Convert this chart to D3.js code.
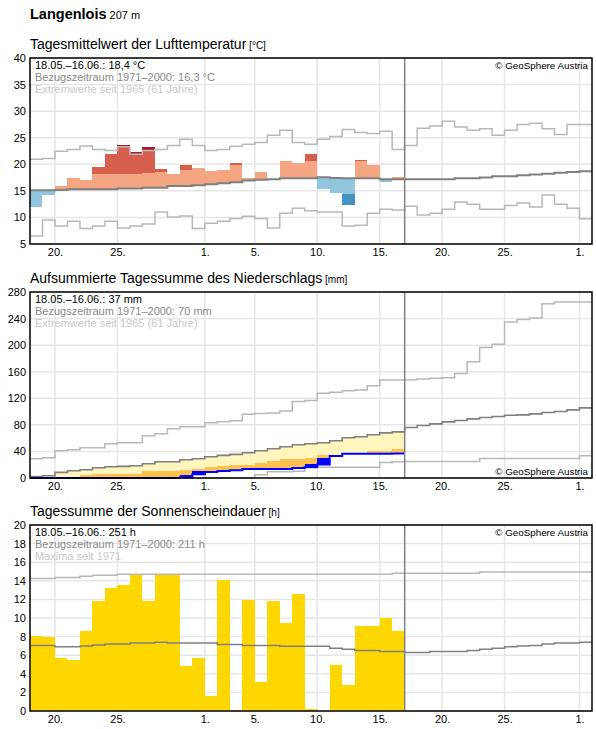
<!DOCTYPE html>
<html><head><meta charset="utf-8">
<script src="https://cdn.jsdelivr.net/npm/d3@7"></script>
<style>
body{margin:0;background:#fff;}
svg{display:block;font-family:"Liberation Sans",Arial,sans-serif;}
</style>
</head><body>
<svg id="c" width="596" height="729"></svg>
<script>
// ---------- DATA ----------
const startDate = new Date(Date.UTC(2025, 4, 18));   // 18 May 2025
const dayCount = 45;                                   // 18.05. – 01.07.
const nowIndex = 30;                                   // data up to 16.06.
const tickDates = [
  new Date(Date.UTC(2025,4,20)), new Date(Date.UTC(2025,4,25)), new Date(Date.UTC(2025,5,1)),
  new Date(Date.UTC(2025,5,5)), new Date(Date.UTC(2025,5,10)), new Date(Date.UTC(2025,5,15)),
  new Date(Date.UTC(2025,5,20)), new Date(Date.UTC(2025,5,25)), new Date(Date.UTC(2025,6,1))
];

// Temperature (°C)
const tempTicks = [5,10,15,20,25,30,35,40];
const tempValue = [12.05,14.3,15.9,17.4,17.05,19.5,22.0,23.7,22.25,23.25,19.1,18.2,19.9,19.3,18.75,18.95,20.25,17.45,18.55,17.3,20.6,20.25,22.0,15.4,14.6,12.4,20.8,19.9,16.75,17.6];
const tempWarm  = [18.0,18.0,18.0,18.1,18.1,18.2,18.2,18.2,18.2,18.4,18.55,18.7,18.9,19.4,19.5,19.6,19.9,20.0,20.1,20.2,20.7,20.6,20.6,20.6,20.6,20.6,20.6,20.6,20.6,20.6];
const tempCold  = [11.8,11.9,12.0,12.0,12.1,12.1,12.2,12.2,12.3,12.3,12.4,12.5,12.6,12.7,12.8,12.9,13.0,13.2,13.4,13.6,13.8,14.0,14.2,14.3,14.4,14.4,14.4,14.4,14.4,14.4];
const tempMean  = [15.1,15.1,15.15,15.3,15.3,15.3,15.3,15.45,15.45,15.6,15.6,15.9,15.9,16.05,16.25,16.45,16.6,16.95,17.1,17.2,17.35,17.35,17.35,17.55,17.4,17.35,17.35,17.35,17.2,17.2,17.2,17.2,17.2,17.2,17.35,17.35,17.5,17.75,17.75,17.95,18.1,18.2,18.4,18.55,18.7];
const tempMax   = [20.95,21.1,22.45,22.8,23.45,22.8,22.6,23.3,21.9,22.6,22.8,23.55,24.7,23.55,22.6,22.8,23.4,23.75,24.1,25.45,26.4,24.1,23.75,24.7,25.25,26.55,26.0,25.8,26.2,22.8,23.55,26.8,27.2,28.1,27.0,26.4,26.7,25.45,26.4,27.5,27.7,26.7,25.6,27.5,27.5];
const tempMin   = [6.5,9.5,8.4,9.3,7.9,8.4,9.3,8.0,8.4,8.75,11.0,10.1,10.25,7.9,8.9,9.3,9.8,10.2,9.8,8.0,10.8,11.75,11.25,11.0,11.0,8.4,8.55,10.8,11.55,11.4,12.1,10.45,10.8,11.55,12.9,12.5,11.55,11.55,12.25,12.7,11.95,14.2,12.5,11.75,9.75];

// Precipitation, accumulated (mm)
const precTicks = [0,40,80,120,160,200,240,280];
const precActual = [0,0,0,0,0,0,0,0,0,0,0,0,1,5.5,9,10.5,11.5,13.5,13.5,13.5,13.5,15,16.5,20.5,33,36.5,36.5,36.5,36.5,37];
const precOrange = [0.5,1,1.5,2,4,6.5,6.5,6.5,6.5,10,10,10,12.5,13.5,16,17.5,19,19.5,22,26,29,29,30.5,34,34,35,36,40,40,43];
const precBlue   = [0,0,0,0,0,0,0,0,0,0,0,0,4,10,9.5,11,12,12,12,12,12,14,21.5,30.5,30,30,30,30,30,30];
const precMean   = [2,3.5,8.5,11,12.5,15.5,17,17.5,18.5,21.5,24.5,24.5,27.5,29,32,34,35.5,38,41,44,47,50,51.5,53,56,60.5,62,65,68,69.5,76,79,81.5,84.5,86.5,89,91,92.5,94.5,95,96.5,98.5,100,102.5,105.5];
const precMax    = [29,30.5,41,42.5,45.5,45.5,51.5,53,53,63.5,66.5,74,77,77,83,84.5,86,96,97,98,101,115,116.5,127.5,129,131.5,132.5,139,147.5,147.5,148,149,150,151,157.5,175,196.5,201.5,235,238.5,241,262.5,265,265,265];
const precMin    = [0,0,0,0,0,0,0,0,0,0,0,0,0,0,0,0,0,0,5,9.5,9.5,10,15.5,16,16,16,16,16,23.5,24.5,25,25,25,25,25,25,29.5,29.5,29.5,29.5,29.5,29.5,29.5,29.5,33.5];

// Sunshine duration (h)
const sunTicks = [0,2,4,6,8,10,12,14,16,18,20];
const sunValue = [8.1,8.0,5.75,5.5,8.65,11.85,13.25,13.55,14.6,11.85,14.6,14.6,4.85,5.75,1.6,14.1,0.1,11.9,3.15,11.85,9.45,12.6,0.2,0,4.95,2.8,9.15,9.15,10.05,8.55];
const sunMean  = [7.05,7.05,6.9,6.9,7.0,7.1,7.2,7.2,7.3,7.3,7.4,7.3,7.3,7.3,7.3,7.15,7.15,7.05,7.05,7.05,6.95,6.95,6.95,6.95,6.75,6.65,6.5,6.5,6.4,6.4,6.3,6.3,6.4,6.4,6.4,6.5,6.65,6.75,6.9,7.0,7.05,7.2,7.3,7.3,7.4];
const sunMax   = [14.25,14.25,14.35,14.35,14.5,14.6,14.6,14.7,14.7,14.7,14.7,14.7,14.7,14.7,14.7,14.7,14.7,14.7,14.7,14.7,14.7,14.7,14.7,14.7,14.7,14.7,14.7,14.7,14.7,14.8,14.8,14.8,14.8,14.8,14.8,14.8,14.95,14.95,14.95,14.95,14.95,14.95,14.95,14.95,14.95];

// Texts
const stationName = "Langenlois", stationAlt = "207 m";
const panels = [
  {title:"Tagesmittelwert der Lufttemperatur", unit:"[°C]", lines:["18.05.–16.06.: 18,4 °C","Bezugszeitraum 1971–2000: 16,3 °C","Extremwerte seit 1965 (61 Jahre)"], copyTop:true},
  {title:"Aufsummierte Tagessumme des Niederschlags", unit:"[mm]", lines:["18.05.–16.06.: 37 mm","Bezugszeitraum 1971–2000: 70 mm","Extremwerte seit 1965 (61 Jahre)"], copyTop:false},
  {title:"Tagessumme der Sonnenscheindauer", unit:"[h]", lines:["18.05.–16.06.: 251 h","Bezugszeitraum 1971–2000: 211 h","Maxima seit 1971"], copyTop:true}
];
const copyright = "© GeoSphere Austria";

// ---------- LAYOUT ----------
const svg = d3.select("#c");
const L = 30, R = 592, PH = 186;
const tops = [58, 292, 525];
const x = d3.scaleUtc().domain([startDate, d3.utcDay.offset(startDate, dayCount)]).range([L, R]);
const xAt = i => x(d3.utcDay.offset(startDate, i));

const C = {grid:"#e6e6e6", mean:"#808080", ext:"#b8b8b8", now:"#808080",
  salmon:"#f4a582", red:"#d6604d", dred:"#b2182b", lblue:"#92c5de", blue:"#4393c3", dblue:"#2166ac",
  yellow:"#fff5bd", orange:"#fec150", pblue:"#0000ff", pgreen:"#9ecae1", sun:"#ffd700"};

// Station title
const st = svg.append("text").attr("x", 30).attr("y", 18.5).attr("font-size", 14.5).attr("font-weight", "bold").text(stationName);
st.append("tspan").attr("font-size", 11).attr("font-weight", "normal").text(" " + stationAlt);

function stepPath(y, vals) {
  const pts = vals.map((v, i) => [i, v]).concat([[vals.length, vals[vals.length - 1]]]);
  return d3.line().x(d => xAt(d[0])).y(d => y(d[1])).curve(d3.curveStepAfter)(pts);
}

function panelBase(p, top, yDomain, ticks) {
  const bottom = top + PH;
  const y = d3.scaleLinear().domain(yDomain).range([bottom, top]);
  const g = svg.append("g");
  const t = g.append("text").attr("x", 30).attr("y", top - 9).attr("font-size", 14).text(p.title);
  t.append("tspan").attr("font-size", 10).text(" " + p.unit);
  // grid
  const grid = g.append("g");
  grid.selectAll(".gy").data(ticks).join("line")
    .attr("x1", L).attr("x2", R).attr("y1", d => y(d)).attr("y2", d => y(d))
    .attr("stroke", C.grid).attr("stroke-width", 1.5);
  grid.selectAll(".gx").data(tickDates).join("line")
    .attr("x1", d => x(d)).attr("x2", d => x(d)).attr("y1", top).attr("y2", bottom)
    .attr("stroke", C.grid).attr("stroke-width", 1.5);
  // axes
  const ay = g.append("g").attr("transform", `translate(${L},0)`)
    .call(d3.axisLeft(y).tickValues(ticks).tickSize(0).tickPadding(4).tickFormat(d3.format("d")));
  ay.select(".domain").remove();
  ay.selectAll("text").attr("font-size", 11).attr("font-family", '"Liberation Sans",Arial,sans-serif').attr("fill", "#000");
  const ax = g.append("g").attr("transform", `translate(0,${bottom})`)
    .call(d3.axisBottom(x).tickValues(tickDates).tickSize(0).tickPadding(4.5).tickFormat(d3.utcFormat("%-d.")));
  ax.select(".domain").remove();
  ax.selectAll("text").attr("font-size", 11).attr("font-family", '"Liberation Sans",Arial,sans-serif').attr("fill", "#000");
  const data = g.append("g");
  const over = g.append("g");
  return {g, y, top, bottom, data, over};
}

function panelFinish(P, p) {
  const {g, top, bottom, over} = P;
  over.append("line").attr("x1", xAt(nowIndex)).attr("x2", xAt(nowIndex)).attr("y1", top).attr("y2", bottom)
    .attr("stroke", C.now).attr("stroke-width", 1.5);
  over.append("rect").attr("x", L).attr("y", top).attr("width", R - L).attr("height", PH)
    .attr("fill", "none").attr("stroke", "#000").attr("stroke-width", 1.5);
  const cols = ["#000", "#8a8a8a", "#c8c8c8"];
  p.lines.forEach((s, i) => {
    over.append("text").attr("x", 35).attr("y", top + 10.5 + i * 12).attr("font-size", 11).attr("fill", cols[i]).text(s);
  });
  over.append("text").attr("x", 588).attr("y", p.copyTop ? top + 11 : bottom - 3)
    .attr("text-anchor", "end").attr("font-size", 9.8).attr("fill", "#000").text(copyright);
}

function bar(gr, i, y, a, b, color) {
  if (Math.abs(a - b) < 1e-9) return;
  gr.append("rect").attr("x", xAt(i)).attr("width", xAt(i + 1) - xAt(i))
    .attr("y", y(Math.max(a, b))).attr("height", Math.abs(y(a) - y(b))).attr("fill", color)
    .attr("shape-rendering", "crispEdges");
}
function line(gr, y, vals, color, w) {
  gr.append("path").attr("d", stepPath(y, vals)).attr("fill", "none").attr("stroke", color).attr("stroke-width", w);
}

// ---------- PANEL 1: temperature ----------
{
  const P = panelBase(panels[0], tops[0], [5, 40], tempTicks);
  const {y, data} = P;
  tempValue.forEach((v, i) => {
    const m = tempMean[i], w = tempWarm[i], c = tempCold[i], mx = tempMax[i], mn = tempMin[i];
    if (v >= m) {
      bar(data, i, y, m, Math.min(v, w), C.salmon);
      if (v > w) bar(data, i, y, w, Math.min(v, mx), C.red);
      if (v > mx) bar(data, i, y, Math.max(mx, w), v, C.dred);
    } else {
      bar(data, i, y, m, Math.max(v, c), C.lblue);
      if (v < c) bar(data, i, y, c, Math.max(v, mn), C.blue);
      if (v < mn) bar(data, i, y, mn, v, C.dblue);
    }
  });
  line(data, y, tempMax, C.ext, 1.5);
  line(data, y, tempMin, C.ext, 1.5);
  line(data, y, tempMean, C.mean, 2);
  panelFinish(P, panels[0]);
}

// ---------- PANEL 2: precipitation ----------
{
  const P = panelBase(panels[1], tops[1], [0, 280], precTicks);
  const {y, data} = P;
  precActual.forEach((v, i) => {
    const m = precMean[i], o = precOrange[i], b = precBlue[i];
    if (v < m) {
      bar(data, i, y, m, Math.max(v, o), C.yellow);
      if (v < o) bar(data, i, y, o, Math.max(v, b), C.orange);
      if (v < b) bar(data, i, y, b, v, C.pblue);
    } else {
      bar(data, i, y, m, v, C.pgreen);
    }
  });
  line(data, y, precMax, C.ext, 1.5);
  line(data, y, precMin, C.ext, 1.5);
  line(data, y, precMean, C.mean, 1.6);
  line(data, y, precActual, C.pblue, 2);
  panelFinish(P, panels[1]);
}

// ---------- PANEL 3: sunshine ----------
{
  const P = panelBase(panels[2], tops[2], [0, 20], sunTicks);
  const {y, data} = P;
  sunValue.forEach((v, i) => bar(data, i, y, 0, v, C.sun));
  line(data, y, sunMax, C.ext, 1.5);
  line(data, y, sunMean, C.mean, 1.5);
  panelFinish(P, panels[2]);
}
</script>
</body></html>
